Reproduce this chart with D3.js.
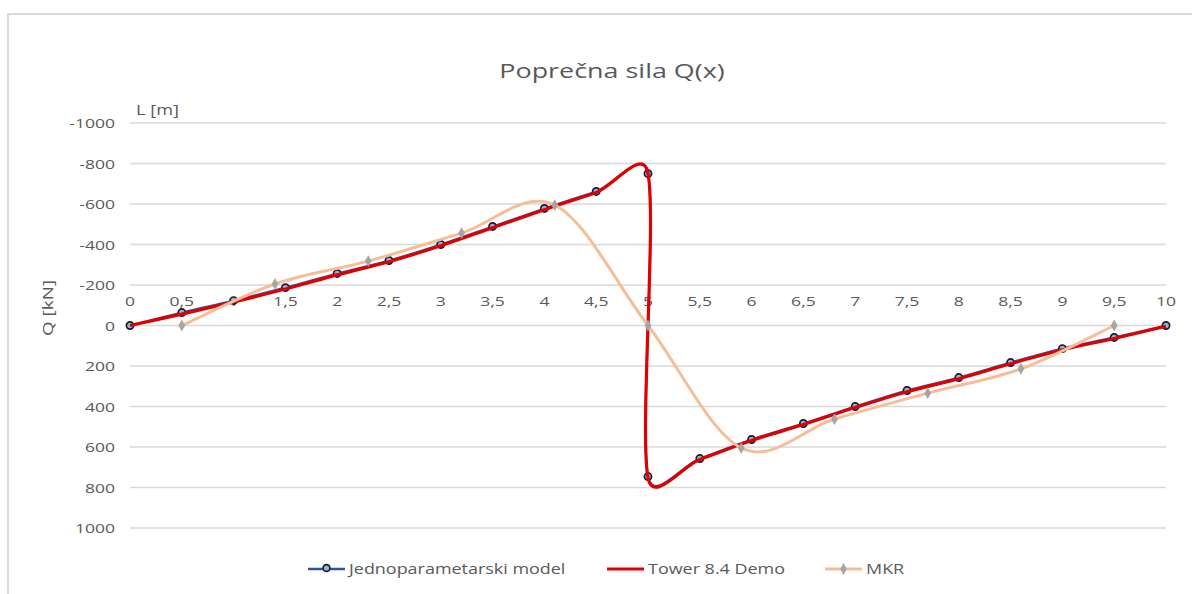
<!DOCTYPE html>
<html>
<head>
<meta charset="utf-8">
<script src="https://cdn.jsdelivr.net/npm/d3@7"></script>
<style>
  html, body { margin: 0; padding: 0; background: #fff; }
  svg { display: block; }
  text { font-family: "Open Sans", "Noto Sans", sans-serif; fill: #595959; }
</style>
</head>
<body>
<svg id="chart" width="1192" height="594"></svg>
<script>
// Shear force along the beam, three solution methods
const xModel = [0, 0.5, 1, 1.5, 2, 2.5, 3, 3.5, 4, 4.5, 5, 5, 5.5, 6, 6.5, 7, 7.5, 8, 8.5, 9, 9.5, 10];
const qModel = [0, -64, -123, -187, -257, -321, -400, -489, -578, -662, -750, 746, 657, 563, 484, 400, 321, 257, 183, 114, 59, 0];

const xTower = [0, 0.5, 1, 1.5, 2, 2.5, 3, 3.5, 4, 4.5, 5, 5, 5.5, 6, 6.5, 7, 7.5, 8, 8.5, 9, 9.5, 10];
const qTower = [0, -56, -116, -180, -250, -315, -394, -483, -572, -657, -752, 752, 662, 568, 489, 405, 327, 263, 189, 120, 64, 4];

const xMKR = [0.5, 1.4, 2.3, 3.2, 4.1, 5.0, 5.9, 6.8, 7.7, 8.6, 9.5];
const qMKR = [0, -205, -318, -456, -595, 0, 605, 462, 334, 214, 0];

const xTicks = [0, 0.5, 1, 1.5, 2, 2.5, 3, 3.5, 4, 4.5, 5, 5.5, 6, 6.5, 7, 7.5, 8, 8.5, 9, 9.5, 10];
const yTicks = [-1000, -800, -600, -400, -200, 0, 200, 400, 600, 800, 1000];

const seriesNames = ["Jednoparametarski model", "Tower 8.4 Demo", "MKR"];
const titleText = "Poprečna sila Q(x)";
const xTitle = "L [m]";
const yTitle = "Q [kN]";

const svg = d3.select("#chart");
const stretch = 1.3; // horizontal glyph stretch used for all labels

function label(g, x, y, str, size, anchor, rot) {
  return g.append("text")
    .attr("transform", `translate(${x},${y})` + (rot ? ` rotate(${rot})` : "") + ` scale(${stretch},1)`)
    .attr("text-anchor", anchor)
    .attr("dominant-baseline", "central")
    .style("font-size", size + "px")
    .text(str);
}

// Smoothed polyline: cubic Bezier segments whose handles follow the
// neighbouring points (1/6 of the chord), capped at half the segment length
function smoothPath(pts, cap = 0.5) {
  const p = d3.path();
  p.moveTo(pts[0][0], pts[0][1]);
  for (let i = 0; i < pts.length - 1; i++) {
    const p0 = pts[i - 1] || pts[i], p1 = pts[i], p2 = pts[i + 1], p3 = pts[i + 2] || pts[i + 1];
    const seg = Math.hypot(p2[0] - p1[0], p2[1] - p1[1]);
    const limit = (dx, dy) => {
      const l = Math.hypot(dx, dy), m = cap * seg;
      return l > m && l > 0 ? [dx * m / l, dy * m / l] : [dx, dy];
    };
    const t1 = limit((p2[0] - p0[0]) / 6, (p2[1] - p0[1]) / 6);
    const t2 = limit((p3[0] - p1[0]) / 6, (p3[1] - p1[1]) / 6);
    p.bezierCurveTo(p1[0] + t1[0], p1[1] + t1[1], p2[0] - t2[0], p2[1] - t2[1], p2[0], p2[1]);
  }
  return p.toString();
}

// outer frame
svg.append("rect")
  .attr("x", 8).attr("y", 14)
  .attr("width", 1200).attr("height", 600)
  .attr("fill", "#fff")
  .attr("stroke", "#d9d9d9").attr("stroke-width", 2);

const x = d3.scaleLinear().domain([0, 10]).range([130, 1166]);
const y = d3.scaleLinear().domain([-1000, 1000]).range([123, 528]);

// horizontal gridlines
svg.append("g").selectAll("line").data(yTicks).join("line")
  .attr("x1", x(0)).attr("x2", x(10))
  .attr("y1", d => y(d)).attr("y2", d => y(d))
  .attr("stroke", "#d9d9d9").attr("stroke-width", 1.3);

const fmt = d => String(d).replace(".", ",");

// value axis labels
const gY = svg.append("g");
yTicks.forEach(t => label(gY, 115, y(t), String(t), 13.5, "end"));

// distance axis labels, sitting just above the zero line
const gX = svg.append("g");
xTicks.forEach(t => label(gX, x(t), y(0) - 25, fmt(t), 13.5, "middle"));

// titles
label(svg, 612, 70, titleText, 20.7, "middle");
label(svg, 136, 110, xTitle, 14, "start");
label(svg, 47, 308, yTitle, 14.5, "middle", -90);

const ptsModel = xModel.map((v, i) => [x(v), y(qModel[i])]);
const ptsTower = xTower.map((v, i) => [x(v), y(qTower[i])]);
const ptsMKR = xMKR.map((v, i) => [x(v), y(qMKR[i])]);

const blue = "#2f55a4", red = "#e00000", peach = "#f6be98", grey = "#a5a5a5";

// series 1: line and circle markers
svg.append("path").attr("d", smoothPath(ptsModel))
  .attr("fill", "none").attr("stroke", blue).attr("stroke-width", 2.2);
svg.append("g").selectAll("circle").data(ptsModel).join("circle")
  .attr("cx", d => d[0]).attr("cy", d => d[1]).attr("r", 3.6)
  .attr("fill", "#8fb4e3").attr("stroke", "#1a1a2e").attr("stroke-width", 1.7);

// series 2
svg.append("path").attr("d", smoothPath(ptsTower))
  .attr("fill", "none").attr("stroke", red).attr("stroke-width", 3.2);

// series 3: line and diamond markers
svg.append("path").attr("d", smoothPath(ptsMKR))
  .attr("fill", "none").attr("stroke", peach).attr("stroke-width", 3);
const diamond = d3.symbol().type(d3.symbolDiamond).size(40);
svg.append("g").selectAll("path").data(ptsMKR).join("path")
  .attr("transform", d => `translate(${d[0]},${d[1]})`)
  .attr("d", diamond).attr("fill", grey);

// legend
const ly = 569;
const lg = svg.append("g");
const legendItems = [
  { x0: 308, color: blue, w: 2.5, marker: "circle", name: seriesNames[0] },
  { x0: 607, color: red, w: 3, marker: null, name: seriesNames[1] },
  { x0: 825, color: peach, w: 3, marker: "diamond", name: seriesNames[2] }
];
legendItems.forEach(it => {
  lg.append("line").attr("x1", it.x0).attr("x2", it.x0 + 37)
    .attr("y1", ly).attr("y2", ly)
    .attr("stroke", it.color).attr("stroke-width", it.w);
  if (it.marker === "circle") {
    lg.append("circle").attr("cx", it.x0 + 18.5).attr("cy", ly - 1).attr("r", 3.4)
      .attr("fill", "#8fb4e3").attr("stroke", "#1a1a2e").attr("stroke-width", 1.6);
  } else if (it.marker === "diamond") {
    lg.append("path").attr("transform", `translate(${it.x0 + 18.5},${ly})`)
      .attr("d", diamond).attr("fill", grey);
  }
  label(lg, it.x0 + 41, ly, it.name, 13.8, "start");
});
</script>
</body>
</html>
